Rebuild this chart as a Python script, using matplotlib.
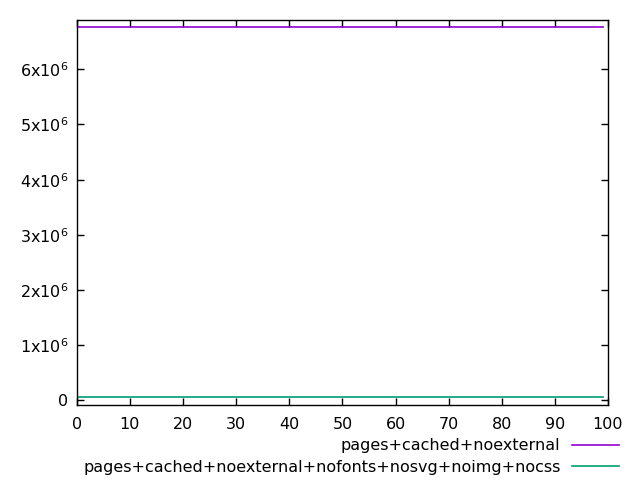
import matplotlib
matplotlib.use("Agg")
import matplotlib.pyplot as plt
from matplotlib.ticker import FuncFormatter

# values (both series are flat)
x = list(range(100))
noexternal = [6.76e6] * 100
stripped = [0.06e6] * 100
labels = ["pages+cached+noexternal",
          "pages+cached+noexternal+nofonts+nosvg+noimg+nocss"]
colors = ["#9400D3", "#009E73"]

plt.rcParams['font.family'] = 'DejaVu Sans'
plt.rcParams['font.size'] = 11.5

fig = plt.figure(figsize=(6.4, 4.8), dpi=100)
ax = fig.add_axes([0.12, 0.157, 0.83, 0.801])

ax.plot(x, noexternal, color=colors[0], lw=1.2, label=labels[0])
ax.plot(x, stripped, color=colors[1], lw=1.2, label=labels[1])

ax.set_xlim(0, 100)
ax.set_ylim(-0.076e6, 6.89e6)
ax.set_xticks(range(0, 101, 10))
ax.set_yticks([i * 1e6 for i in range(7)])

def yfmt(v, pos):
    n = int(round(v / 1e6))
    if n == 0:
        return "0"
    return r"%dx10$^{\mathregular{6}}$" % n

ax.yaxis.set_major_formatter(FuncFormatter(yfmt))
ax.tick_params(direction='in', top=True, right=True, length=5, width=1)
ax.tick_params(axis='x', pad=9)
ax.tick_params(axis='y', pad=6)
for s in ax.spines.values():
    s.set_linewidth(1)

ax.legend(loc='upper right', bbox_to_anchor=(1.0216, -0.088), frameon=False,
          markerfirst=False, handlelength=3.0, handletextpad=0.7,
          labelspacing=0.38, borderpad=0, borderaxespad=0)

fig.savefig("out.png", dpi=100)
